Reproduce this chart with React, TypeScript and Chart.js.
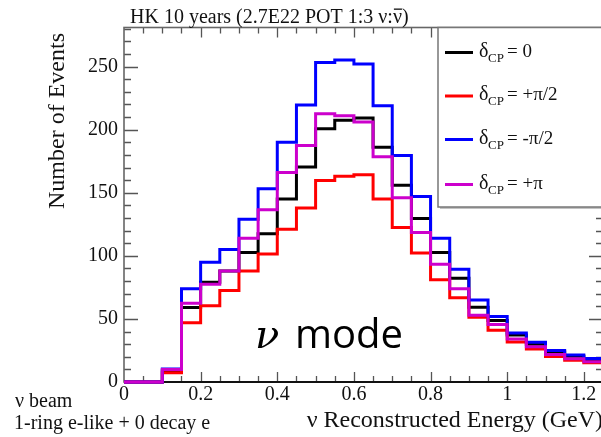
import React, { useEffect, useRef } from "react";
import { Chart, registerables } from "chart.js";

Chart.register(...registerables);

// Bin edges of the histogram (GeV)
const binEdges = [
  0, 0.05, 0.1, 0.15, 0.2, 0.25, 0.3, 0.35, 0.4, 0.45, 0.5, 0.55, 0.6, 0.65,
  0.7, 0.75, 0.8, 0.85, 0.9, 0.95, 1.0, 1.05, 1.1, 1.15, 1.2, 1.25,
];

// Bin contents (one per bin, 25 bins)
const dcp0 = [0, 0, 9, 59, 79, 88, 102.6, 117.5, 145, 170.4, 200.8, 207.4, 209.3, 186, 156, 129.6, 102.6, 82.2, 59.3, 48.7, 37.3, 30, 23.8, 20.5, 17.5];
const dcpPlusHalfPi = [0, 0, 7.4, 47, 60.5, 72.5, 88, 101.5, 121, 138, 159.8, 163, 164.3, 145, 122.5, 102.3, 81, 66.7, 51.3, 41, 31.8, 26.2, 20.3, 17.3, 15.2];
const dcpMinusHalfPi = [0, 0, 10.3, 74, 95, 105, 129, 153.2, 190, 219.6, 253.3, 255.2, 252, 219, 179.5, 147, 114, 89.4, 65, 52, 38.9, 31.6, 24.9, 21.4, 18.6];
const dcpPi = [0, 0, 10, 62.4, 77.5, 88, 114, 136.5, 166, 187.5, 212.7, 211, 206, 178.5, 146, 118.6, 93.4, 74, 53, 45.5, 34, 28, 21.8, 18.4, 16];

const seriesNames = ["= 0", "= +π/2", "= -π/2", "= +π"];
const seriesColors = ["#000000", "#ff0000", "#0000ff", "#cc00cc"];
const seriesData = [dcp0, dcpPlusHalfPi, dcpMinusHalfPi, dcpPi];
const drawOrder = [3, 2, 1, 0]; // magenta on top

const xTickStep = 0.2;
const yTickStep = 50;
const xMax = 1.25;
const yMax = 281;

const SERIF = "'Liberation Serif', 'Times New Roman', serif";

function toPoints(vals: number[]) {
  return binEdges.map((x, i) => ({ x, y: vals[Math.min(i, vals.length - 1)] }));
}

function fmt(v: number) {
  return String(Number(v.toFixed(2)));
}

const framePlugin = {
  id: "frame",
  beforeDatasetsDraw(chart: any) {
    const { ctx, chartArea: a, scales } = chart;
    const x = scales.x;
    const y = scales.y;
    ctx.save();
    ctx.strokeStyle = "#555";
    ctx.lineWidth = 1.3;
    ctx.beginPath();
    for (let i = 1; i < 25; i++) {
      const px = Math.round(x.getPixelForValue(i * 0.05)) + 0.5;
      const len = i % 4 === 0 ? 10 : 6;
      ctx.moveTo(px, a.bottom);
      ctx.lineTo(px, a.bottom - len);
      ctx.moveTo(px, a.top);
      ctx.lineTo(px, a.top + len);
    }
    for (let i = 1; i * 10 < yMax; i++) {
      const py = Math.round(y.getPixelForValue(i * 10)) + 0.5;
      const len = i % 5 === 0 ? 14 : 7;
      ctx.moveTo(a.left, py);
      ctx.lineTo(a.left + len, py);
      ctx.moveTo(a.right, py);
      ctx.lineTo(a.right - len, py);
    }
    ctx.stroke();
    ctx.lineWidth = 1.6;
    ctx.strokeStyle = "#666";
    ctx.strokeRect(a.left, a.top, a.right - a.left, a.bottom - a.top);
    ctx.strokeStyle = "#111";
    ctx.lineWidth = 2;
    ctx.beginPath();
    ctx.moveTo(a.left, a.bottom);
    ctx.lineTo(a.right, a.bottom);
    ctx.stroke();

    // Tick labels from the chart's own scales
    ctx.fillStyle = "#111";
    ctx.font = `20px ${SERIF}`;
    ctx.textAlign = "center";
    ctx.textBaseline = "top";
    for (const t of x.ticks) {
      ctx.fillText(fmt(t.value), x.getPixelForValue(t.value), a.bottom + 3);
    }
    ctx.textAlign = "right";
    ctx.textBaseline = "middle";
    for (const t of y.ticks) {
      ctx.fillText(fmt(t.value), a.left - 6, y.getPixelForValue(t.value));
    }
    ctx.restore();
  },
  afterDraw(chart: any) {
    const { ctx, chartArea: a } = chart;
    ctx.save();
    // Title
    ctx.fillStyle = "#111";
    ctx.font = `20px ${SERIF}`;
    ctx.textAlign = "left";
    ctx.textBaseline = "alphabetic";
    const t1 = "HK 10 years (2.7E22 POT 1:3 ν:";
    ctx.fillText(t1, 130, 23);
    const w1 = ctx.measureText(t1).width;
    ctx.fillText("ν", 130 + w1, 23);
    const wn = ctx.measureText("ν").width;
    ctx.fillRect(130 + w1 + 1, 8.5, wn - 1, 1.3);
    ctx.fillText(")", 130 + w1 + wn, 23);

    // Y axis title
    ctx.save();
    ctx.translate(64, 33);
    ctx.rotate(-Math.PI / 2);
    ctx.font = `24px ${SERIF}`;
    ctx.textAlign = "right";
    ctx.fillText("Number of Events", 0, 0);
    ctx.restore();

    // X axis title
    ctx.font = `24px ${SERIF}`;
    ctx.textAlign = "right";
    ctx.fillText("ν Reconstructed Energy (GeV)", 603, 427);

    // Bottom-left notes
    ctx.font = `20px ${SERIF}`;
    ctx.textAlign = "left";
    ctx.fillText("ν beam", 15, 407);
    ctx.fillText("1-ring e-like + 0 decay e", 14, 429);

    // Legend box
    const lx = 438;
    const ltop = a.top;
    const lbot = 207;
    ctx.fillStyle = "#fff";
    ctx.fillRect(lx, ltop, 620 - lx, lbot - ltop);
    ctx.strokeStyle = "#777";
    ctx.lineWidth = 1.5;
    ctx.strokeRect(lx, ltop, 620 - lx, lbot - ltop);
    ctx.fillStyle = "#888";
    ctx.fillRect(lx + 2, lbot, 620, 1.5);
    const rowsY = [52.5, 96, 139.5, 184.5];
    for (let i = 0; i < 4; i++) {
      const ry = rowsY[i];
      ctx.strokeStyle = seriesColors[i];
      ctx.lineWidth = 3;
      ctx.beginPath();
      ctx.moveTo(445, ry);
      ctx.lineTo(473, ry);
      ctx.stroke();
      ctx.fillStyle = "#111";
      ctx.textAlign = "left";
      ctx.font = `20px ${SERIF}`;
      ctx.fillText("δ", 479, ry + 4);
      ctx.font = `13px ${SERIF}`;
      ctx.fillText("CP", 488, ry + 9);
      ctx.font = `19px ${SERIF}`;
      ctx.fillText(seriesNames[i], 507, ry + 4);
    }

    // nu mode annotation
    ctx.fillStyle = "#000";
    ctx.font = `italic 40px 'DejaVu Serif', serif`;
    ctx.fillText("ν", 255, 348);
    ctx.font = `40px 'Open Sans', 'Noto Sans', sans-serif`;
    ctx.fillText("mode", 295, 348);
    ctx.restore();
  },
};

export default function App() {
  const ref = useRef<HTMLCanvasElement | null>(null);
  useEffect(() => {
    if (!ref.current) return;
    const chart = new Chart(ref.current, {
      type: "line",
      data: {
        datasets: seriesData.map((vals, i) => ({
          label: seriesNames[i],
          data: toPoints(vals),
          borderColor: seriesColors[i],
          backgroundColor: seriesColors[i],
          borderWidth: 3,
          stepped: "before" as const,
          pointRadius: 0,
          fill: false,
          order: drawOrder[i],
          clip: 3,
          borderJoinStyle: "miter" as const,
        })),
      },
      options: {
        responsive: false,
        animation: false,
        devicePixelRatio: 1,
        layout: { padding: { left: 0, top: 27.5, right: 3, bottom: 0 } },
        plugins: {
          legend: { display: false },
          title: { display: false },
          tooltip: { enabled: false },
        },
        scales: {
          x: {
            type: "linear",
            min: 0,
            max: xMax,
            grid: { display: false, drawTicks: false },
            border: { display: false },
            ticks: {
              display: false,
              stepSize: xTickStep,
              includeBounds: false,
              autoSkip: false,
            },
            afterFit: (s: any) => {
              s.height = 55;
            },
          },
          y: {
            type: "linear",
            min: 0,
            max: yMax,
            grid: { display: false, drawTicks: false },
            border: { display: false },
            ticks: {
              display: false,
              stepSize: yTickStep,
              includeBounds: false,
            },
            afterFit: (s: any) => {
              s.width = 124;
            },
          },
        },
      } as any,
      plugins: [framePlugin],
    });
    return () => chart.destroy();
  }, []);
  return (
    <div style={{ position: "absolute", left: 0, top: 0, width: 601, height: 437, overflow: "hidden", background: "#fff" }}>
      <canvas ref={ref} width={606} height={437} style={{ display: "block" }} />
    </div>
  );
}
